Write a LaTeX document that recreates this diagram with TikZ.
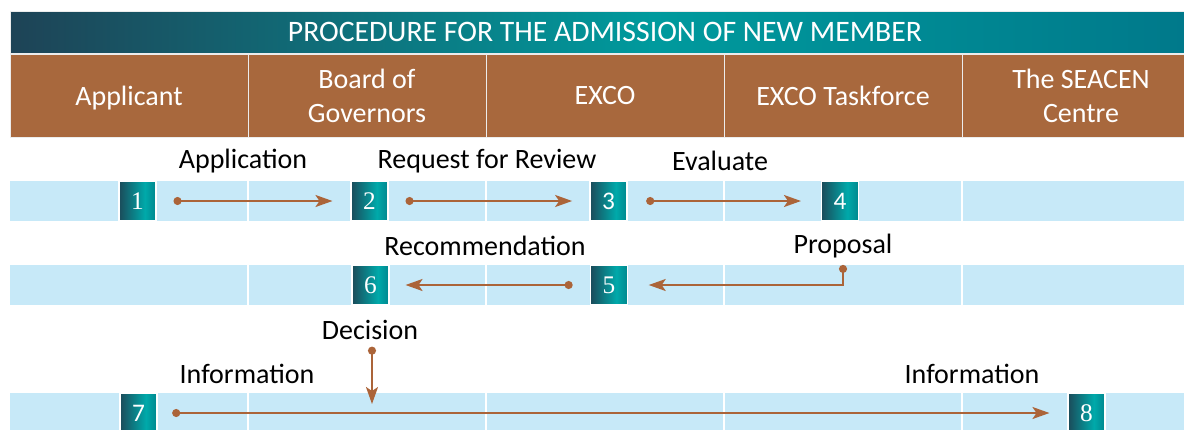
\documentclass[tikz,border=0pt]{standalone}
\usepackage{fontspec}
\setmainfont{Carlito}
\newfontfamily\numfont{Liberation Serif}
\usetikzlibrary{positioning, arrows.meta}

\definecolor{headbrown}{HTML}{A8683D}
\definecolor{bandblue}{HTML}{C7E9F8}
\definecolor{flowbrown}{HTML}{AB6439}
\definecolor{tealdark}{HTML}{1B4B5A}
\definecolor{teallight}{HTML}{00A9AA}
\definecolor{tealmid}{HTML}{00878E}
\definecolor{titledark}{HTML}{1E4356}
\definecolor{titlebright}{HTML}{009A9D}
\definecolor{titleright}{HTML}{00788A}

% fills for the step boxes and the title bar
\pgfdeclarehorizontalshading{numshade}{100bp}{color(0bp)=(tealdark); color(25bp)=(tealdark); color(60bp)=(teallight); color(75bp)=(tealmid); color(100bp)=(tealmid)}
\pgfdeclarehorizontalshading{titleshade}{100bp}{color(0bp)=(titledark); color(25bp)=(titledark); color(52bp)=(titlebright); color(75bp)=(titleright); color(100bp)=(titleright)}

\begin{document}
\begin{tikzpicture}[x=0.75pt, y=-0.75pt,
	>={Stealth[length=12.75pt, width=9pt, inset=3pt]},
	head/.style={draw=white!85!gray, line width=0.75pt, fill=headbrown, text=white, align=center,
		minimum width=178.5pt, minimum height=62.25pt, text depth=0pt, font=\fontsize{21}{25.5}\selectfont},
	numbox/.style={draw=white, line width=0.8pt, shade, shading=numshade, text=white, inner sep=0pt,
		minimum width=27.75pt, minimum height=30pt, font=\numfont\fontsize{19}{19}\selectfont},
	sansnum/.style={font=\fontsize{19}{19}\selectfont},
	lbl/.style={inner sep=1pt, font=\fontsize{21}{25}\selectfont},
	flow/.style={draw=flowbrown, line width=1.5pt, {Circle[length=6pt]}->},
	]
	\useasboundingbox (0,0) rectangle (1184,429);

	% title and header row
	\node[shade, shading=titleshade, draw=white!85!gray, line width=0.75pt, text=white, minimum width=892.5pt,
		minimum height=31.5pt, font=\fontsize{22.3}{26}\selectfont] at (605, 32) (title) {PROCEDURE FOR THE ADMISSION OF NEW MEMBER};
	\node[head] at (129, 95.5) (applicant) {Applicant};
	\node[head] at (367, 95.5) (board) {Board of\\Governors};
	\node[head] at (605, 95.5) (exco) {EXCO};
	\node[head] at (843, 95.5) (taskforce) {EXCO Taskforce};
	\node[head] at (1081, 95.5) (seacen) {The SEACEN\\Centre};

	% light bands behind the steps
	\fill[bandblue] (10,181) rectangle (1200,221);
	\fill[bandblue] (10,265) rectangle (1200,305);
	\fill[bandblue] (10,393) rectangle (1200,435);
	\foreach \x in {248, 486, 724, 962} {
		\draw[white, line width=0.8pt] (\x,181) -- (\x,221);
		\draw[white, line width=0.8pt] (\x,265) -- (\x,305);
		\draw[white, line width=0.8pt] (\x,393) -- (\x,435);
	}

	% steps
	\node[numbox] at (137.5, 201) (n1) {1};
	\node[numbox] at (369.5, 201) (n2) {2};
	\node[numbox, sansnum] at (608.5, 201) (n3) {3};
	\node[numbox, sansnum] at (840, 201) (n4) {4};
	\node[numbox] at (609, 285) (n5) {5};
	\node[numbox] at (370.5, 285) (n6) {6};
	\node[numbox, sansnum] at (138.5, 413) (n7) {7};
	\node[numbox] at (1086.5, 413) (n8) {8};

	% labels
	\node[lbl] at (243, 161) (application) {Application};
	\node[lbl] at (487, 161) (review) {Request for Review};
	\node[lbl] at (720, 161) (evaluate) {Evaluate};
	\node[lbl] at (485, 246) (recommendation) {Recommendation};
	\node[lbl] at (843, 246) (proposal) {Proposal};
	\node[lbl] at (370, 330) (decision) {Decision};
	\node[lbl] at (247, 374) (info-left) {Information};
	\node[lbl] at (972, 374) (info-right) {Information};
	\coordinate (decision-end) at (372, 404);

	% flows
	\draw[flow, shorten <=12.75pt, shorten >=13.5pt] (n1.east) -- (n2.west);
	\draw[flow, shorten <=12.75pt, shorten >=13pt] (n2.east) -- (n3.west);
	\draw[flow, shorten <=14pt, shorten >=15pt] (n3.east) -- (n4.west);
	\draw[flow, shorten <=4pt, shorten >=15.5pt] (proposal.south) |- (n5.east);
	\draw[flow, shorten <=13pt, shorten >=12pt] (n5.west) -- (n6.east);
	\draw[flow, shorten <=4pt] (decision.south -| decision-end) -- (decision-end);
	\draw[flow, shorten <=11pt, shorten >=13.5pt] (n7.east) -- (n8.west);
\end{tikzpicture}
\end{document}
